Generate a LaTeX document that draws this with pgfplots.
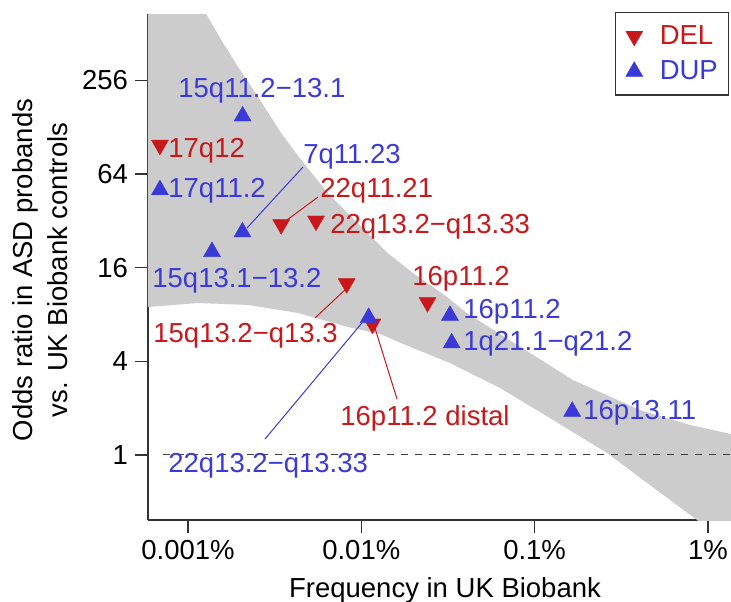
\documentclass[border=0pt]{standalone}
\usepackage{fontspec}
\setmainfont{Liberation Sans}
\usepackage{pgfplots}
\pgfplotsset{compat=1.18}
\definecolor{delred}{RGB}{200,24,28}
\definecolor{dupblue}{RGB}{58,58,218}
\definecolor{bandgrey}{RGB}{204,204,204}

\begin{document}
\begin{tikzpicture}[font=\fontsize{13.75}{16.5}\selectfont]
% page = 731 x 601 px at 0.5pt per px, axis box origin at px (148,520)
\path[use as bounding box] (-74pt,-40.5pt) rectangle (291.5pt,260pt);
\begin{axis}[
  at={(0pt,0pt)}, anchor=south west,
  scale only axis, width=291.5pt, height=253pt,
  xmode=log, ymode=log,
  xmin=0.000588, xmax=1.359, ymin=0.382, ymax=683,
  axis lines*=left,
  axis line style={-, black!80, line width=0.6pt},
  tick align=outside, major tick length=6.5pt,
  tick style={black!80, line width=0.6pt},
  xminorticks=false, yminorticks=false,
  xtick={0.001,0.01,0.1,1},
  xticklabels={0.001\%,0.01\%,0.1\%,1\%},
  ytick={1,4,16,64,256},
  yticklabels={1,4,16,64,256},
  legend image code/.code={\draw[#1] plot coordinates {(0pt,0pt)};},
  legend style={at={(0.9966,1.004)}, anchor=north east,
    draw=black!80, line width=0.6pt,
    inner xsep=5.3pt, inner ysep=6.3pt,
    row sep=6.7pt, column sep=8.5pt,
    nodes={inner sep=0pt}, cells={anchor=west}},
]
% confidence band
\addplot[fill=bandgrey, draw=none, forget plot] coordinates {
  (0.0005,900) (0.001062,974) (0.001275,683) (0.001557,464.7)
  (0.001943,313) (0.002535,200.7) (0.003455,116.8) (0.004506,78.7)
  (0.006424,48.1) (0.009160,32.4) (0.01426,19.8) (0.01987,14.78)
  (0.03111,10.41) (0.04057,8.18) (0.1666,3.03) (0.4057,1.946)
  (0.788,1.559) (1.359,1.364) (1.6,1.33)
  (2.0,0.211) (0.865,0.382) (0.4634,0.641) (0.2617,1.030)
  (0.1074,1.889) (0.0632,2.695) (0.03249,3.90) (0.0186,5.02)
  (0.01282,5.99) (0.00838,6.65) (0.00431,8.18) (0.00222,9.21)
  (0.001142,9.48) (0.0005,8.81)
} -- cycle;
% OR = 1 reference
\addplot[black!75, line width=0.5pt, dash pattern=on 3.5pt off 3.5pt, forget plot]
  coordinates {(0.000717,1) (1.5,1)};
% deletions
\addplot[only marks, mark=triangle*, mark size=4.9pt,
  mark options={rotate=180, fill=delred, draw=delred, line width=0.2pt}]
  coordinates {
  (0.000689,98.2)   % 17q12
  (0.003450,30.3)   % 22q11.21
  (0.005478,31.96)  % 22q13.2-q13.33
  (0.008235,12.65)  % 15q13.2-q13.3
  (0.02410,9.57)    % 16p11.2
  (0.01160,6.96)    % 16p11.2 distal
};
% duplications
\addplot[only marks, mark=triangle*, mark size=4.9pt,
  mark options={fill=dupblue, draw=dupblue, line width=0.2pt}]
  coordinates {
  (0.002067,150.7)  % 15q11.2-13.1
  (0.000689,50.6)   % 17q11.2
  (0.002062,27.1)   % 7q11.23
  (0.001376,20.25)  % 15q13.1-13.2
  (0.03249,7.89)    % 16p11.2
  (0.01103,7.64)    % 22q13.2-q13.33
  (0.03323,5.24)    % 1q21.1-q21.2
  (0.1648,1.906)    % 16p13.11
};
\legend{\textcolor{delred}{DEL},\textcolor{dupblue}{DUP}}
\end{axis}
% labels, in pixel units of the reference
\begin{scope}[x=0.5pt, y=-0.5pt, shift={(-74pt,260pt)}]
  \node[rotate=90, anchor=base] at (33,270) {Odds ratio in ASD probands};
  \node[rotate=90, anchor=base] at (67,270) {vs. UK Biobank controls};
  \node[anchor=base] at (445,597) {Frequency in UK Biobank};
  \begin{scope}[every node/.style={anchor=base west, inner sep=0pt}]
    \node[text=dupblue] at (178,97) {15q11.2−13.1};
    \node[text=dupblue] at (168,197) {17q11.2};
    \node[text=dupblue] at (303,163) {7q11.23};
    \node[text=dupblue] at (152,287) {15q13.1−13.2};
    \node[text=dupblue] at (463,318) {16p11.2};
    \node[text=dupblue] at (463,350) {1q21.1−q21.2};
    \node[text=dupblue] at (583,419) {16p13.11};
    \node[text=dupblue] at (168,472) {22q13.2−q13.33};
    \node[text=delred] at (168,157) {17q12};
    \node[text=delred] at (320,197) {22q11.21};
    \node[text=delred] at (330,233) {22q13.2−q13.33};
    \node[text=delred] at (153,342) {15q13.2−q13.3};
    \node[text=delred] at (412,285) {16p11.2};
    \node[text=delred] at (340,425) {16p11.2 distal};
  \end{scope}
  \draw[dupblue, line width=0.5pt] (303,167) -- (247,228);
  \draw[delred, line width=0.5pt] (318,197) -- (287,220);
  \draw[delred, line width=0.5pt] (315,318) -- (347,288);
  \draw[dupblue, line width=0.5pt] (265,439) -- (366,318);
  \draw[delred, line width=0.5pt] (397,399) -- (374,325);
\end{scope}
\end{tikzpicture}
\end{document}
